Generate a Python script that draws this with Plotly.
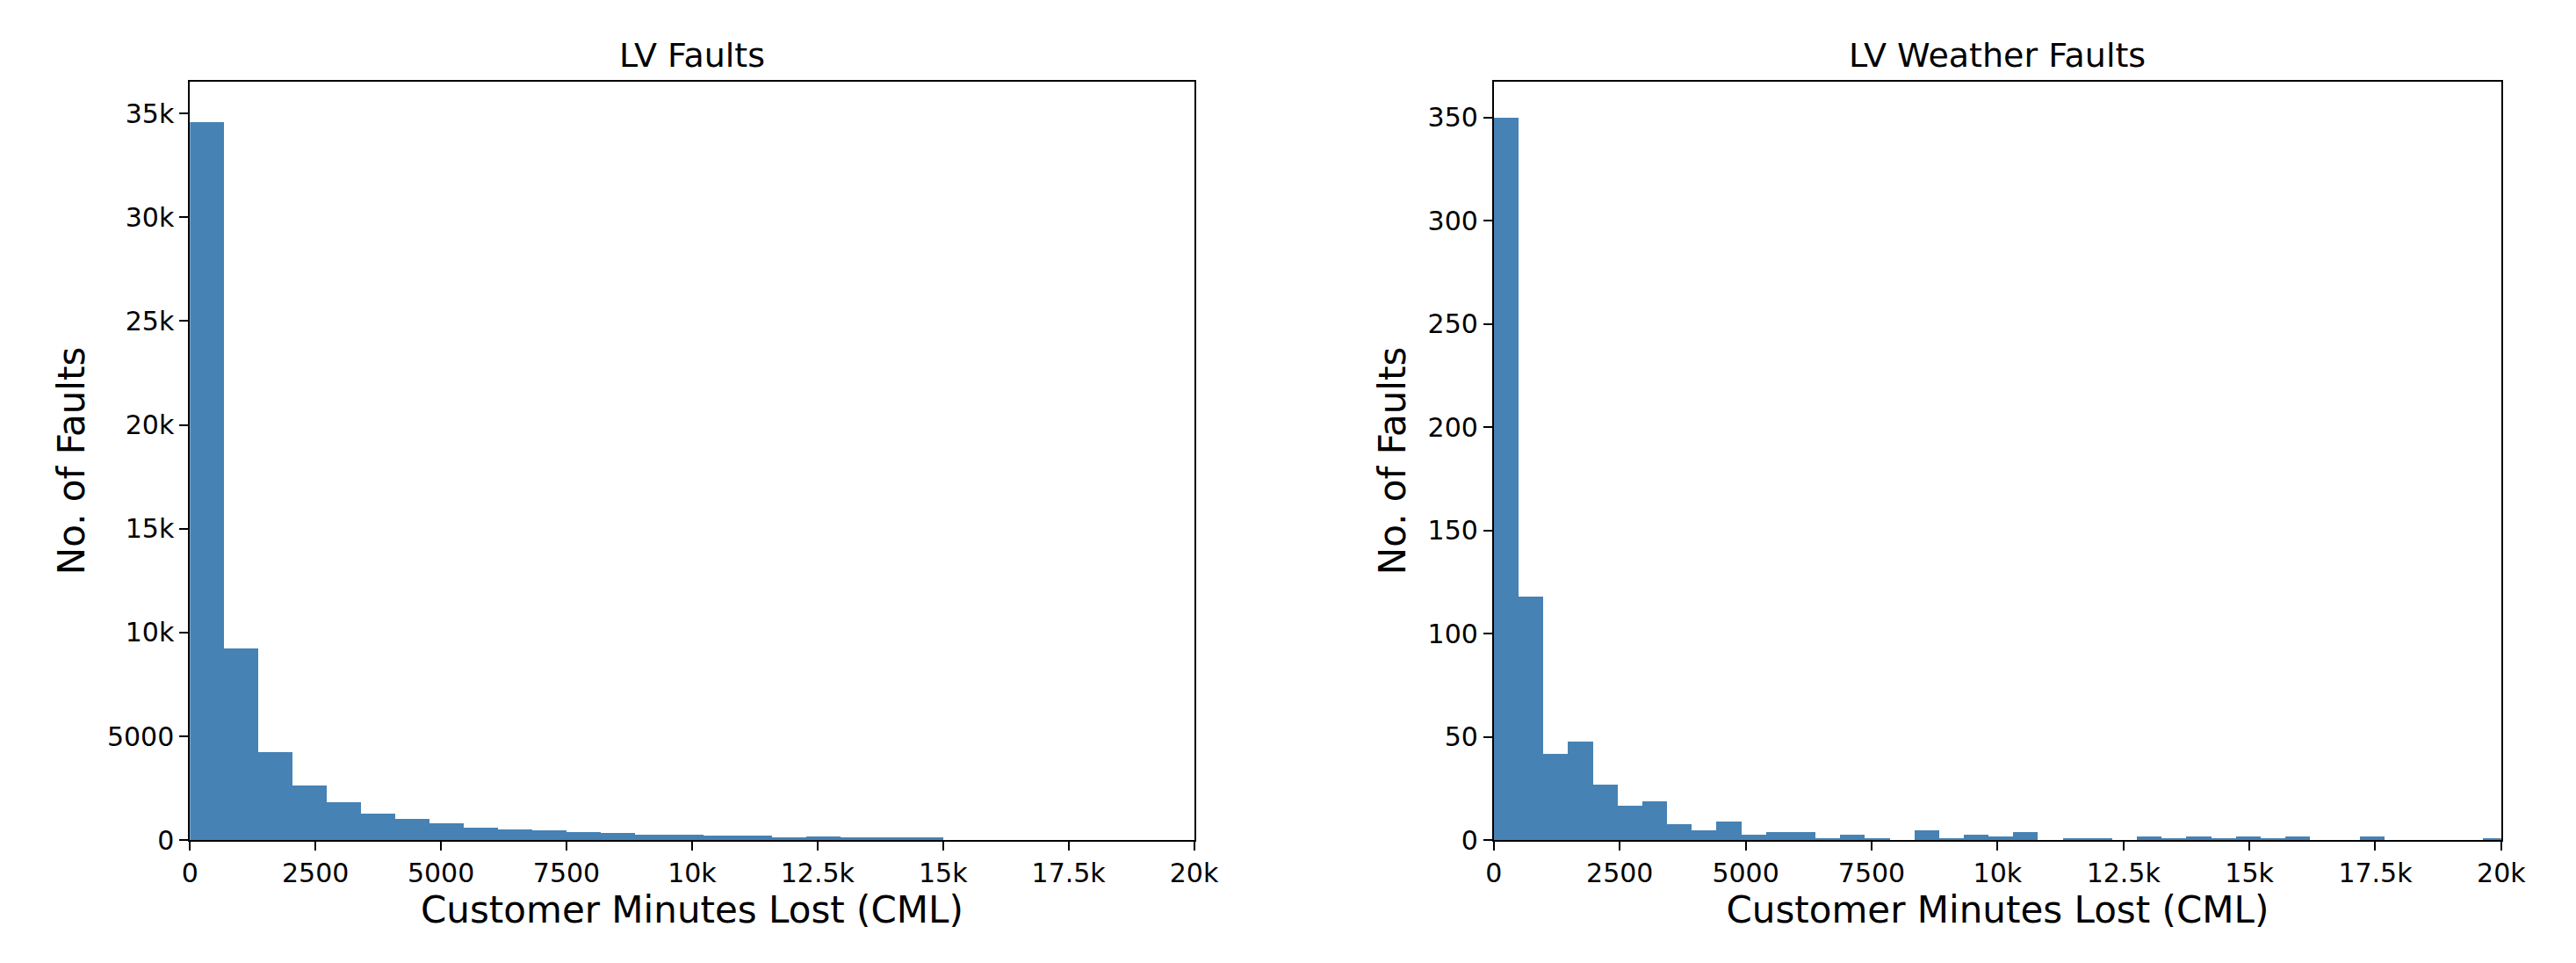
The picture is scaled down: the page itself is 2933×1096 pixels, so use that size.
import plotly.graph_objects as go

# LV Faults histogram (bin width ~682 CML)
lv_bin_width = 682
lv_counts = [34600, 9250, 4260, 2650, 1830, 1290, 1045, 840, 630, 550, 510, 385,
             345, 300, 260, 220, 220, 140, 180, 140, 140, 140]

# LV Weather Faults histogram (bin width ~491 CML)
wx_bin_width = 491
wx_counts = [350, 118, 42, 48, 27, 17, 19, 8, 5, 9, 3, 4, 4, 1, 3, 1, 0, 5, 1, 3,
             2, 4, 0, 1, 1, 0, 2, 1, 2, 1, 2, 1, 2, 0, 0, 2, 0, 0, 0, 0, 1]

x_ticks = [0, 2500, 5000, 7500, 10000, 12500, 15000, 17500, 20000]
lv_yticks = [0, 5000, 10000, 15000, 20000, 25000, 30000, 35000]
wx_yticks = [0, 50, 100, 150, 200, 250, 300, 350]

color = "#4682B4"
font = "DejaVu Sans"

def centers(n, w):
    return [w * (i + 0.5) for i in range(n)]

fig = go.Figure()
fig.add_trace(go.Bar(x=centers(len(lv_counts), lv_bin_width), y=lv_counts,
                     width=lv_bin_width, marker=dict(color=color, line=dict(width=0)),
                     xaxis="x", yaxis="y", showlegend=False))
fig.add_trace(go.Bar(x=centers(len(wx_counts), wx_bin_width), y=wx_counts,
                     width=wx_bin_width, marker=dict(color=color, line=dict(width=0)),
                     xaxis="x2", yaxis="y2", showlegend=False))

ax_common = dict(showline=True, linecolor="black", linewidth=2, mirror=True,
                 ticks="outside", ticklen=10, tickwidth=2, tickcolor="black",
                 showgrid=False, zeroline=False,
                 tickfont=dict(family=font, size=30, color="black"))
title_font = dict(family=font, size=42, color="black")

fig.update_layout(
    width=2933, height=1096, margin=dict(l=0, r=0, t=0, b=0),
    plot_bgcolor="white", paper_bgcolor="white", bargap=0,
    xaxis=dict(domain=[0.0685, 0.4634], range=[0, 20000], tickvals=x_ticks,
               title=dict(text="Customer Minutes Lost (CML)", font=title_font, standoff=8),
               anchor="y", **ax_common),
    yaxis=dict(domain=[0.1204, 0.9215], range=[0, 36540], tickvals=lv_yticks,
               title=dict(text="No. of Faults", font=title_font, standoff=12),
               anchor="x", **ax_common),
    xaxis2=dict(domain=[0.5813, 0.9775], range=[0, 20000], tickvals=x_ticks,
                title=dict(text="Customer Minutes Lost (CML)", font=title_font, standoff=8),
                anchor="y2", **ax_common),
    yaxis2=dict(domain=[0.1204, 0.9215], range=[0, 367.5], tickvals=wx_yticks,
                title=dict(text="No. of Faults", font=title_font, standoff=12),
                anchor="x2", **ax_common),
    annotations=[
        dict(text="LV Faults", x=(0.0685 + 0.4634) / 2, y=0.9215, xref="paper", yref="paper",
             xanchor="center", yanchor="bottom", yshift=6, showarrow=False,
             font=dict(family=font, size=38, color="black")),
        dict(text="LV Weather Faults", x=(0.5813 + 0.9775) / 2, y=0.9215, xref="paper", yref="paper",
             xanchor="center", yanchor="bottom", yshift=6, showarrow=False,
             font=dict(family=font, size=38, color="black")),
    ],
)

fig.write_html("out.html")
